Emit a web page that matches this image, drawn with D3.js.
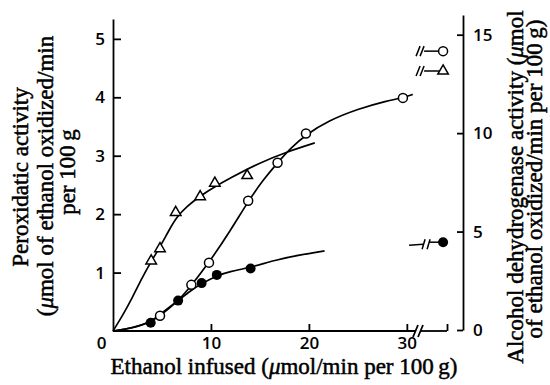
<!DOCTYPE html>
<html>
<head>
<meta charset="utf-8">
<script src="https://cdn.jsdelivr.net/npm/d3@7"></script>
<style>
  body { margin: 0; background: #fff; }
  .tick text { font-family: "Open Sans", sans-serif; font-weight: 600; font-size: 17px; fill: #000; }
  .lbl { font-family: "Liberation Serif", "Times New Roman", Times, serif; font-size: 23px; fill: #000; stroke: #000; stroke-width: 0.5px; }
</style>
</head>
<body>
<div id="chart"></div>
<script>
// measured points (x = ethanol infused, y = left axis units)
var triX = [3.9, 4.8, 6.4, 8.9, 10.4, 13.7];
var triY = [1.2, 1.41, 2.03, 2.3, 2.53, 2.66];
var openX = [4.8, 8.0, 9.8, 13.8, 16.8, 19.7, 29.6];
var openY = [0.26, 0.79, 1.17, 2.23, 2.88, 3.38, 3.99];
var fillX = [3.85, 6.65, 9.05, 10.6, 14.05];
var fillY = [0.14, 0.52, 0.82, 0.96, 1.07];

// fitted curves
var triCurveX = [0, 1, 2, 3, 3.9, 4.8, 5.7, 6.5, 7.5, 8.9, 10.4, 12, 14.7, 17.8, 20.6];
var triCurveY = [0, 0.27, 0.58, 0.92, 1.19, 1.44, 1.72, 1.95, 2.13, 2.31, 2.47, 2.62, 2.86, 3.07, 3.22];
var openCurveX = [0, 2, 3.9, 4.8, 6.7, 8, 9.8, 12, 13.8, 15.3, 16.8, 18.2, 19.7, 22, 25, 28, 29.6, 30.6];
var openCurveY = [0, 0.05, 0.16, 0.26, 0.52, 0.78, 1.17, 1.72, 2.22, 2.58, 2.88, 3.14, 3.36, 3.6, 3.8, 3.94, 3.99, 4.05];
var fillCurveX = [0, 2, 3.85, 5, 6.65, 8, 9.05, 10.6, 12, 14.05, 16.7, 19, 21.6];
var fillCurveY = [0, 0.05, 0.15, 0.31, 0.52, 0.7, 0.81, 0.95, 1.02, 1.09, 1.22, 1.3, 1.37];

// points plotted beyond the axis break
var breakX = 33.7;
var breakOpenY = 4.79;
var breakTriY = 4.45;
var breakFillY = 1.52;

// ticks
var xTicks = [0, 10, 20, 30, 34.1];
var yLeftTicks = [1, 2, 3, 4, 5];
var yRightTicks = [0, 5, 10, 15];

var svg = d3.select('#chart')
    .append('svg')
    .attr('width', 550)
    .attr('height', 385);

var x = d3.scaleLinear().domain([0, 34.1]).range([113, 447]);
var yL = d3.scaleLinear().domain([0, 5.34]).range([331, 19]);
var yR = d3.scaleLinear().domain([0, 16]).range([330, 15]);

function zip(a, b) {
    return a.map(function (d, i) { return [d, b[i]]; });
}

// axes
var xAxis = d3.axisBottom(x)
    .tickValues(xTicks)
    .tickSize(-7)
    .tickSizeOuter(0)
    .tickPadding(6)
    .tickFormat(function (d) { return d > 30 ? '' : d; });

var gx = svg.append('g')
    .attr('transform', 'translate(0,331)')
    .call(xAxis);
gx.select('.domain').remove();
gx.selectAll('.tick').filter(function (d) { return d === 0; })
    .select('text').attr('x', -12);
gx.selectAll('.tick').filter(function (d) { return d === 0; })
    .select('line').remove();

var gy = svg.append('g')
    .attr('transform', 'translate(113,0)')
    .call(d3.axisLeft(yL).tickValues(yLeftTicks).tickFormat(d3.format('d'))
        .tickSize(-8).tickSizeOuter(0).tickPadding(8));

var gr = svg.append('g')
    .attr('transform', 'translate(463,0)')
    .call(d3.axisRight(yR).tickValues(yRightTicks).tickFormat(d3.format('d'))
        .tickSize(-6).tickSizeOuter(0).tickPadding(10));

svg.selectAll('.domain, .tick line')
    .attr('stroke', '#000')
    .attr('stroke-width', 1.8);

// x axis line with break
var axisLine = svg.append('g')
    .attr('stroke', '#000')
    .attr('stroke-width', 1.8)
    .attr('fill', 'none');
axisLine.append('line')
    .attr('x1', x(0)).attr('x2', 416).attr('y1', 331).attr('y2', 331);
axisLine.append('line')
    .attr('x1', 421).attr('x2', x(34.1)).attr('y1', 331).attr('y2', 331);
[415, 420].forEach(function (sx) {
    axisLine.append('line')
        .attr('x1', sx - 2).attr('y1', 337)
        .attr('x2', sx + 3).attr('y2', 325);
});

// curves
var line = d3.line()
    .x(function (d) { return x(d[0]); })
    .y(function (d) { return yL(d[1]); })
    .curve(d3.curveBasis);

[zip(triCurveX, triCurveY), zip(openCurveX, openCurveY), zip(fillCurveX, fillCurveY)].forEach(function (c) {
    svg.append('path')
        .datum(c)
        .attr('d', line)
        .attr('fill', 'none')
        .attr('stroke', '#000')
        .attr('stroke-width', 1.7);
});

// break connectors for the right-hand points
var brk = svg.append('g')
    .attr('stroke', '#000')
    .attr('stroke-width', 1.5)
    .attr('fill', 'none');

[breakOpenY, breakTriY].forEach(function (v) {
    var px = x(breakX), py = yL(v);
    [px - 25, px - 21].forEach(function (sx) {
        brk.append('path')
            .attr('d', 'M' + (sx - 2) + ',' + (py + 5) + 'Q' + sx + ',' + py + ' ' + (sx + 2) + ',' + (py - 5));
    });
    brk.append('line')
        .attr('x1', px - 19).attr('x2', px - 4)
        .attr('y1', py).attr('y2', py);
});

(function () {
    var px = x(breakX), py = yL(breakFillY);
    brk.append('line')
        .attr('x1', px - 34).attr('x2', px - 20)
        .attr('y1', py + 3).attr('y2', py + 2);
    [px - 19, px - 14].forEach(function (sx) {
        brk.append('line')
            .attr('x1', sx - 2).attr('y1', py + 7)
            .attr('x2', sx + 1).attr('y2', py - 3);
    });
    brk.append('line')
        .attr('x1', px - 14).attr('x2', px)
        .attr('y1', py).attr('y2', py);
})();

// markers
var triSym = d3.symbol().type(d3.symbolTriangle).size(48);

svg.append('g').selectAll('path')
    .data(zip(triX, triY).concat([[breakX, breakTriY]]))
    .enter()
    .append('path')
    .attr('d', triSym)
    .attr('transform', function (d) { return 'translate(' + x(d[0]) + ',' + yL(d[1]) + ')'; })
    .attr('fill', '#fff')
    .attr('stroke', '#000')
    .attr('stroke-width', 1.5);

svg.append('g').selectAll('circle')
    .data(zip(openX, openY).concat([[breakX, breakOpenY]]))
    .enter()
    .append('circle')
    .attr('cx', function (d) { return x(d[0]); })
    .attr('cy', function (d) { return yL(d[1]); })
    .attr('r', 4.5)
    .attr('fill', '#fff')
    .attr('stroke', '#000')
    .attr('stroke-width', 1.5);

svg.append('g').selectAll('circle')
    .data(zip(fillX, fillY).concat([[breakX, breakFillY]]))
    .enter()
    .append('circle')
    .attr('cx', function (d) { return x(d[0]); })
    .attr('cy', function (d) { return yL(d[1]); })
    .attr('r', 5)
    .attr('fill', '#000');

// axis titles
function label(tx, ty, rot, parts) {
    var t = svg.append('text')
        .attr('class', 'lbl')
        .attr('text-anchor', 'middle')
        .attr('transform', 'translate(' + tx + ',' + ty + ')' + (rot ? ' rotate(-90)' : ''));
    parts.forEach(function (p) {
        t.append('tspan')
            .attr('font-style', p[1] ? 'italic' : null)
            .text(p[0]);
    });
}

label(284, 374, false, [['Ethanol infused ('], ['\u03bc', true], ['mol/min per 100\u2009g)']]);

label(28, 177, true, [['Peroxidatic activity']]);
label(53, 176, true, [['('], ['\u03bc', true], ['mol of ethanol oxidized/min']]);
label(75, 172, true, [['per 100\u2009g']]);

label(523, 187, true, [['Alcohol dehydrogenase activity ('], ['\u03bc', true], ['mol']]);
label(542, 179, true, [['of ethanol oxidized/min per 100\u2009g)']]);
</script>
</body>
</html>
